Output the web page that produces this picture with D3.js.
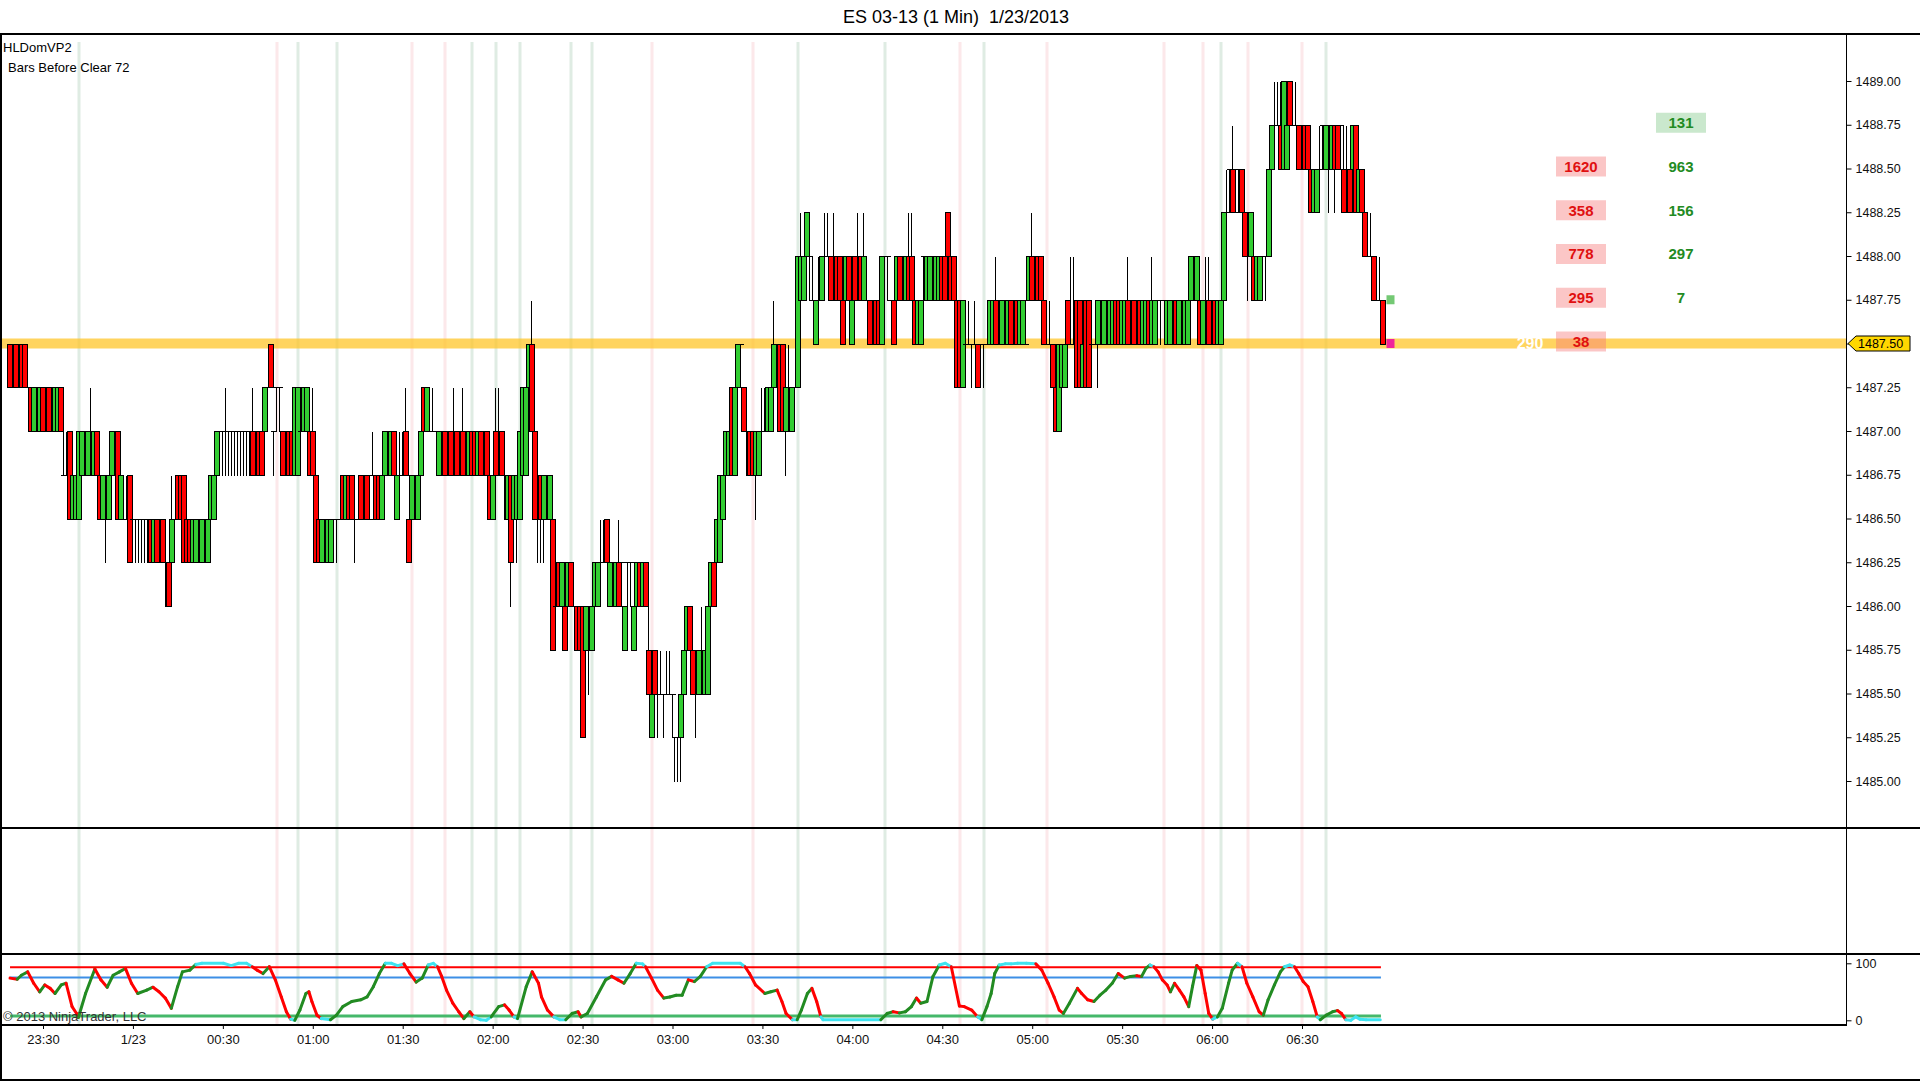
<!DOCTYPE html>
<html><head><meta charset="utf-8">
<script src="https://cdn.jsdelivr.net/npm/d3@7"></script>
<style>
html,body{margin:0;padding:0;background:#fff;}
svg{display:block;font-family:Arial,"Liberation Sans",sans-serif;}
</style></head><body>
<svg id="c" width="1920" height="1081"></svg>
<script>
// ---------------- DATA ----------------
const chartTitle = "ES 03-13 (1 Min)  1/23/2013";
const indicatorName = "HLDomVP2";
const indicatorParam = "Bars Before Clear 72";
const copyright = "\u00A9 2013 NinjaTrader, LLC";
const firstBarTime = "2013-01-22 23:19";
const basePrice = 1485.00, tickStep = 0.25;
const priceTicks = [1485.00,1485.25,1485.50,1485.75,1486.00,1486.25,1486.50,1486.75,1487.00,1487.25,1487.50,1487.75,1488.00,1488.25,1488.50,1488.75,1489.00];
const lastPrice = 1487.50;
// bars: levels in ticks above basePrice
const barOpen = [
10,10,10,10,10,10,9,9,8,8, 8,9,9,9,8,8,8,9,7,7, 8,6,6,6,7,7,7,7,7,8, 7,6,6,6,7,7,8,6,6,6,
7,6,6,6,6,6,6,6,5,6, 6,6,5,5,5,6,7,7,7,6, 6,5,5,5,5,5,5,6,6,7, 8,8,8,8,8,8,8,8,8,8,
8,8,8,8,8,8,9,10,8,9, 9,8,8,8,8,7,7,8,8,8, 8,8,7,6,5,5,5,5,6,6, 6,7,6,7,7,6,6,7,7,7,
6,7,7,7,6,7,7,7,8,6, 7,7,8,6,6,6,6,7,9,8, 8,8,8,7,8,8,8,8,8,8, 8,8,8,7,8,8,7,8,8,8,
7,6,8,8,8,7,6,7,6,6, 6,7,7,9,10,8,6,7,6,6, 6,6,4,5,4,4,4,5,4,4, 4,4,3,3,3,4,4,5,5,6,
4,4,4,5,5,3,5,5,3,4, 5,4,5,3,1,3,2,2,2,2, 2,2,1,1,1,2,3,4,3,3, 2,2,2,2,4,5,5,5,6,7,
7,9,7,9,10,9,8,8,8,7, 7,8,8,8,8,9,10,10,10,8, 8,8,9,9,11,11,12,12,11,10, 11,11,12,12,12,12,12,12,11,11,
12,10,12,12,12,11,11,11,11,11, 11,10,12,12,11,11,11,12,12,11, 12,12,11,10,10,12,11,11,12,11, 11,12,12,13,12,12,11,11,9,10,
10,10,10,10,10,10,10,10,10,11, 10,10,10,10,11,11,11,10,10,10, 11,12,12,12,12,11,10,10,10,9, 8,9,9,11,10,10,11,11,9,11,
11,10,10,10,10,10,10,10,10,11, 11,10,10,11,11,11,11,11,10,10, 11,10,10,11,11,11,10,10,11,11, 10,10,10,10,11,11,11,11,10,11,
11,11,11,10,10,11,13,14,14,13, 14,14,13,12,12,12,11,11,12,12, 12,14,15,15,15,14,14,16,15,15, 15,15,15,15,14,13,13,14,15,14,
14,14,15,15,15,14,14,14,14,15, 13,14,13,12,12,12,11,11,11];
const barClose = [
9,9,9,9,9,9,9,8,9,9, 9,8,8,8,8,9,9,8,7,7, 6,7,7,8,8,8,8,8,8,7, 6,7,7,7,8,7,6,7,6,6,
5,6,6,6,6,6,6,5,6,5, 5,5,5,4,6,6,6,6,5,5, 5,6,6,5,6,6,6,7,7,8, 8,8,8,8,8,8,8,8,8,8,
8,7,8,7,7,9,9,9,8,9, 9,7,7,7,7,9,9,8,9,9, 7,7,5,5,6,6,6,6,6,6, 6,6,7,6,6,6,6,6,6,6,
6,7,6,6,7,8,8,8,7,7, 7,7,7,5,7,7,7,8,8,9, 8,8,8,8,8,7,7,7,7,7, 7,7,8,8,7,7,8,7,7,7,
6,7,7,7,7,7,7,5,7,7, 8,9,9,10,8,6,6,6,7,7, 7,3,4,4,5,3,5,4,4,3, 3,1,4,4,4,5,5,5,5,5,
5,5,5,4,5,4,5,5,4,5, 4,5,4,2,2,2,2,2,2,2, 2,2,1,1,2,3,4,3,2,3, 3,3,3,4,5,4,6,7,7,8,
8,7,9,10,10,8,8,7,7,8, 8,8,8,9,9,10,10,8,8,9, 9,9,9,12,12,12,13,12,11,11, 11,12,12,12,11,12,11,11,10,12,
11,11,11,11,11,12,11,10,10,10, 10,12,12,12,11,10,12,11,12,12, 11,11,10,11,11,12,12,12,12,12, 12,11,11,12,11,11,9,9,11,10,
10,10,10,9,10,10,10,11,11,10, 10,11,11,11,10,10,10,11,11,10, 12,11,11,11,11,10,10,10,9,8, 10,10,10,10,10,10,9,9,10,9,
9,10,10,11,10,11,11,11,11,10, 10,11,11,10,10,10,10,10,11,11, 10,11,11,11,11,11,11,11,11,10, 11,11,11,11,12,12,12,10,11,11,
10,10,10,11,11,13,13,14,13,13, 14,13,12,12,13,11,12,12,12,12, 14,15,15,15,14,16,15,15,15,15, 14,15,14,14,13,14,14,14,15,15,
15,15,14,14,15,13,13,13,15,13, 14,13,12,12,12,11,11,11,10];
const barHigh = [
10,10,10,10,10,10,10,9,9,9, 9,9,9,9,8,9,9,9,8,8, 8,7,7,8,8,8,8,9,8,8, 7,7,7,7,8,7,8,7,7,7,
7,6,6,6,6,6,6,6,6,6, 6,6,5,5,7,6,7,7,7,6, 6,6,6,6,6,6,6,7,7,8, 8,8,9,8,8,8,8,8,8,8,
8,9,8,8,8,9,9,10,8,9, 9,8,8,8,8,9,9,8,9,9, 8,9,7,6,6,6,6,6,6,6, 6,7,7,7,7,6,6,7,7,7,
6,8,7,7,7,8,8,8,8,7, 8,8,9,6,7,7,7,8,9,9, 8,9,8,8,8,8,8,8,9,8, 8,9,8,8,8,8,8,8,8,8,
7,7,9,9,8,7,7,7,7,7, 8,9,9,10,11,8,6,7,7,7, 7,6,4,5,5,4,5,5,5,4, 4,4,4,4,4,5,5,6,6,6,
5,5,5,6,5,4,5,5,4,5, 5,5,5,4,2,3,2,3,2,3, 3,2,1,1,2,3,4,4,3,3, 3,4,3,4,5,5,6,7,7,8,
8,9,9,10,10,9,8,8,8,8, 8,9,9,9,9,11,10,10,10,9, 10,9,9,12,13,12,13,12,12,11, 12,12,13,13,12,13,12,12,11,12,
12,11,12,13,12,13,12,11,11,11, 11,12,12,12,11,11,12,12,12,12, 13,13,11,11,11,12,12,12,12,12, 12,12,12,13,12,12,11,11,11,11,
11,10,11,10,10,10,10,11,11,12, 11,11,11,11,11,11,11,11,11,11, 12,13,12,12,12,11,11,11,10,9, 10,10,10,11,12,12,11,11,10,11,
11,10,10,11,10,11,11,11,11,11, 11,11,11,12,11,11,11,11,11,11, 11,12,11,11,11,11,11,11,11,11, 11,11,11,11,12,12,12,11,11,12,
12,11,11,11,11,13,14,14,15,14, 14,14,13,12,13,12,12,12,12,12, 14,15,16,16,16,16,15,16,16,16, 15,15,15,15,14,14,14,15,15,15,
15,15,15,15,15,15,15,14,15,15, 14,14,13,13,13,12,12,12,11];
const barLow = [
9,9,9,9,9,9,9,8,8,8, 8,8,8,8,8,8,8,8,7,7, 6,6,6,6,7,7,7,7,7,7, 6,6,5,6,7,7,6,6,6,6,
5,5,5,5,5,5,5,5,5,5, 5,5,4,4,5,6,6,6,5,5, 5,5,5,5,5,5,5,6,6,7, 7,7,7,7,7,7,7,7,7,7,
7,7,7,7,7,8,9,9,7,8, 8,7,7,7,7,7,7,8,8,8, 7,7,5,5,5,5,5,5,5,5, 6,6,6,6,6,5,6,6,6,6,
6,7,6,6,6,7,7,7,7,6, 7,7,7,5,6,6,6,7,8,8, 8,8,8,7,8,7,7,7,7,7, 7,7,8,7,7,7,7,7,7,7,
6,6,7,7,7,6,6,4,5,5, 6,7,7,9,8,6,5,5,5,6, 6,3,3,4,4,3,4,4,4,3, 3,1,3,2,3,4,4,5,5,5,
4,4,4,4,4,3,4,4,3,4, 4,4,4,2,1,2,1,2,1,2, 2,1,0,0,0,2,3,3,2,1, 2,2,2,2,4,4,5,5,6,6,
7,7,7,9,9,8,7,7,7,6, 7,8,8,8,8,9,9,8,8,7, 8,8,9,9,11,11,12,11,11,10, 11,11,12,12,11,12,11,11,10,11,
11,10,11,11,11,11,11,10,10,10, 10,10,11,11,11,10,11,11,11,11, 11,11,10,10,10,11,11,11,11,11, 11,11,11,12,11,11,9,9,9,10,
10,9,10,9,9,9,10,10,10,10, 10,10,10,10,10,10,10,10,10,10, 11,11,11,11,11,10,10,10,9,8, 8,9,9,10,10,10,9,9,9,9,
9,10,10,9,10,10,10,10,10,10, 10,10,10,10,10,10,10,10,10,10, 10,10,10,10,10,11,10,10,10,10, 10,10,10,10,11,11,11,10,10,11,
10,10,10,10,10,11,13,13,13,13, 13,13,12,11,12,11,11,11,11,11, 12,14,15,15,14,14,14,15,15,15, 14,15,14,14,13,13,13,14,14,14,
13,14,13,14,14,13,13,13,14,13, 13,13,12,12,12,11,11,11,10];
// faint vertical markers
const greenMarkers = ["2013-01-22 23:42","2013-01-23 00:55","2013-01-23 01:08","2013-01-23 01:53","2013-01-23 02:01","2013-01-23 02:09","2013-01-23 02:26","2013-01-23 02:33","2013-01-23 03:42","2013-01-23 04:11","2013-01-23 04:44","2013-01-23 06:03","2013-01-23 06:38"];
const pinkMarkers = ["2013-01-23 00:48","2013-01-23 01:33","2013-01-23 01:44","2013-01-23 02:53","2013-01-23 03:27","2013-01-23 04:36","2013-01-23 05:05","2013-01-23 05:44","2013-01-23 05:57","2013-01-23 06:12","2013-01-23 06:30"];
// DOM volume columns
const domRedPrices = [1488.50,1488.25,1488.00,1487.75,1487.50];
const domRedSizes = [1620,358,778,295,38];
const domGreenPrices = [1488.75,1488.50,1488.25,1488.00,1487.75];
const domGreenSizes = [131,963,156,297,7];
const domGreenHighlight = [true,false,false,false,false];
const lastVolume = 290;
// stochastic (bar number, %K)
const stochBar = [0,2.4,3.8,5.9,7.9,9.9,11.6,13.4,15,17.1,18.7,20.7,22.2,22.8,25.2,28.3,30.3,32.4,34.4,36.5,38.5,40.5,42.6,45.6,47.7,49.7,51.8,53.8,55.9,57.5,60,62,64,71.2,73.8,76.3,78.9,80.8,82.4,84.4,86.5,88.5,90.5,92.2,93.6,95,96.7,98.7,99.7,100.7,102.4,103.8,106.9,108.9,111,114,117,119.1,121.2,123.2,125.2,127.3,129.3,131.4,133.4,135.5,137.5,139.5,141.2,142.6,144,145.6,147.7,149.7,151.4,153.4,154.8,156.9,158.9,160.5,163,165,166.5,168.1,169.3,172.2,174.2,176.3,177.3,179.3,181.4,183.4,185.4,187.5,189.5,190.5,192.6,195.6,198.7,200.7,202.8,204.8,206.9,208.9,211,212,214,216,218.1,220.1,222.2,224.2,226.3,228.3,230.3,232.4,234.4,243.6,245.2,246.7,248.7,251.8,253.8,255.9,257.5,258.9,261,262.6,264,266,267.5,269.1,270.5,271.2,290.5,292.6,294.6,296.7,298.7,300.7,302.4,303.8,305.9,307.9,310,312,314,316.7,318.3,320.8,322.8,324.2,325.9,327.3,328.5,330,332,334,336.1,339.1,342.2,344.2,346.3,348.3,350,351.4,353.4,356.1,357.5,359.5,361.6,363.6,365.6,367.7,369.7,371.8,373.8,375.9,377.5,378.9,380.3,381.6,383,384.4,386,387.1,388.5,390.1,391.6,393.2,394.5,395.9,397.3,398.7,399.9,401.2,402.8,404.4,406.5,407.7,409.5,411,412.6,414.6,416.7,418.1,419.7,421.8,423.8,425.2,426.9,428.5,429.9,431.4,433,434.6,436.1,437.1,439.1,441.2,442.8,444.2,445.6,447.3,448.9,450.3,452.4,457.1];
const stochK = [74,72,79,85,65,50,62,56,47,62,65,24,12,5,47,90,71,58,79,85,91,65,47,53,58,50,39,21,59,85,88,98,100,100,96,100,100,94,88,82,94,71,41,15,2,0,18,47,50,33,9,3,1,9,24,33,36,41,59,82,100,100,96,99,82,67,74,97,100,94,77,53,30,15,3,15,6,1,0,6,24,27,18,6,3,59,85,65,41,18,6,1,1,12,15,6,12,41,71,77,71,65,82,100,99,94,74,53,39,41,44,44,71,68,77,94,100,100,94,82,62,47,50,53,33,12,1,1,18,47,56,33,6,1,1,12,15,13,15,24,39,30,33,77,97,100,94,25,24,18,6,1,24,47,82,97,99,99,100,100,99,88,65,41,18,12,30,56,47,36,33,44,53,65,82,74,77,78,77,91,97,94,85,71,62,50,65,53,41,24,60,96,88,47,12,2,6,21,65,88,100,94,65,41,15,9,36,62,85,94,97,94,82,68,59,33,6,1,9,15,17,12,1,0,6,2,1,1];
const stochLevels = [93, 75, 7.5];
const stochTicks = [0, 100];

// ---------------- LAYOUT ----------------
const W = 1920, H = 1081;
const frameTop = 34, axisX = 1846, priceBottom = 828, midBottom = 954, stochBottom = 1025;
const parseT = d3.timeParse("%Y-%m-%d %H:%M");
const t0 = parseT(firstBarTime);
const barTime = i => new Date(t0.getTime() + i * 60000);
const nBars = barOpen.length;

const x = d3.scaleTime()
  .domain([parseT("2013-01-22 23:30"), parseT("2013-01-23 06:30")])
  .range([43, 1302]);
const y = d3.scaleLinear().domain([1485, 1489]).range([781, 81]);
const yS = d3.scaleLinear().domain([0, 100]).range([1020.3, 963.3]);
const lvl = L => basePrice + L * tickStep;
const py = L => Math.round(y(lvl(L))) + 0.5;
const bx = i => Math.round(x(barTime(i)));

const svg = d3.select("#c");
svg.append("rect").attr("width", W).attr("height", H).attr("fill", "#fff");

// vertical markers
const gm = svg.append("g");
greenMarkers.forEach(s => {
  const xx = Math.round(x(parseT(s)));
  gm.append("line").attr("x1", xx).attr("x2", xx).attr("y1", 42).attr("y2", stochBottom)
    .attr("stroke", "#dfece3").attr("stroke-width", 3);
});
pinkMarkers.forEach(s => {
  const xx = Math.round(x(parseT(s)));
  gm.append("line").attr("x1", xx).attr("x2", xx).attr("y1", 42).attr("y2", stochBottom)
    .attr("stroke", "#fce8ea").attr("stroke-width", 3);
});

// last price band
svg.append("rect").attr("x", 1).attr("width", axisX - 1)
  .attr("y", y(lastPrice) - 5).attr("height", 10)
  .attr("fill", "#FFC62A").attr("opacity", 0.75);

// bars: within a run of identical bodies, every other bar is outlined (overlapping boxes)
const gb = svg.append("g").attr("shape-rendering", "crispEdges");
function wick(i) {
  const o = barOpen[i], c = barClose[i], h = barHigh[i], l = barLow[i];
  if (h > Math.max(o, c) || l < Math.min(o, c)) {
    const cx = bx(i);
    gb.append("line").attr("x1", cx - 0.5).attr("x2", cx - 0.5)
      .attr("y1", py(h)).attr("y2", py(l)).attr("stroke", "#000").attr("stroke-width", 1);
  }
}
function body(i) {
  const o = barOpen[i], c = barClose[i], cx = bx(i);
  const top = py(Math.max(o, c)), bot = py(Math.min(o, c));
  gb.append("rect").attr("x", cx - 2.5).attr("width", 5)
    .attr("y", top).attr("height", bot - top)
    .attr("fill", c > o ? "#32CD32" : "#FF0000")
    .attr("stroke", "#000").attr("stroke-width", 1);
}
let i = 0;
while (i < nBars) {
  const o = barOpen[i], c = barClose[i];
  if (o === c) {
    wick(i);
    const cx = bx(i);
    gb.append("line").attr("x1", cx - 3).attr("x2", cx + 3)
      .attr("y1", py(o)).attr("y2", py(o)).attr("stroke", "#000").attr("stroke-width", 1);
    i++;
    continue;
  }
  let j = i;
  while (j + 1 < nBars && barOpen[j + 1] === o && barClose[j + 1] === c) j++;
  for (let k = i; k <= j; k++) wick(k);
  for (let k = i; k <= j; k += 2) body(k);
  if ((j - i) % 2 === 1) body(j);
  i = j + 1;
}
// small markers after last bar
const nextX = bx(nBars);
svg.append("rect").attr("x", nextX + 0.5).attr("width", 8)
  .attr("y", y(lastPrice + 0.25) - 4.5).attr("height", 9).attr("fill", "#5cbf5c").attr("opacity", 0.85);
svg.append("rect").attr("x", nextX + 0.5).attr("width", 8)
  .attr("y", y(lastPrice) - 4.5).attr("height", 9).attr("fill", "#f0249b");

// DOM columns
const redCx = 1581, greenCx = 1681, volCx = 1530;
const gd = svg.append("g");
domRedPrices.forEach((p, k) => {
  const cy = y(p) - 2;
  gd.append("rect").attr("x", redCx - 25).attr("width", 50).attr("y", cy - 10).attr("height", 20)
    .attr("fill", "rgba(245,120,120,0.42)");
  gd.append("text").attr("x", redCx).attr("y", cy).attr("dy", "0.36em").attr("text-anchor", "middle")
    .attr("font-size", 15).attr("font-weight", "bold").attr("fill", "#e01010").text(domRedSizes[k]);
});
domGreenPrices.forEach((p, k) => {
  const cy = y(p) - 2;
  if (domGreenHighlight[k]) {
    gd.append("rect").attr("x", greenCx - 25).attr("width", 50).attr("y", cy - 10).attr("height", 20)
      .attr("fill", "rgba(80,180,90,0.3)");
  }
  gd.append("text").attr("x", greenCx).attr("y", cy).attr("dy", "0.36em").attr("text-anchor", "middle")
    .attr("font-size", 15).attr("font-weight", "bold").attr("fill", "#228B22").text(domGreenSizes[k]);
});
gd.append("text").attr("x", volCx).attr("y", y(lastPrice)).attr("dy", "0.36em").attr("text-anchor", "middle")
  .attr("font-size", 16).attr("font-weight", "bold").attr("fill", "#fff").text(lastVolume);

// stochastic levels
const sx0 = x(barTime(0)), sx1 = x(barTime(nBars - 1)) - 2;
const levelColors = ["#FF0000", "#3d8fe6", "#45b86a"];
const levelWidths = [2, 2, 3];
stochLevels.forEach((v, k) => {
  svg.append("line").attr("x1", sx0).attr("x2", sx1).attr("y1", yS(v)).attr("y2", yS(v))
    .attr("stroke", levelColors[k]).attr("stroke-width", levelWidths[k]);
});
// stochastic line
const gs = svg.append("g").attr("fill", "none").attr("stroke-width", 3).attr("stroke-linecap", "round");
const pts = stochBar.map((b, k) => [x(new Date(t0.getTime() + b * 60000)), yS(stochK[k]), stochK[k]]);
for (let k = 0; k < pts.length - 1; k++) {
  const a = pts[k], b = pts[k + 1];
  let col;
  if ((a[2] >= 92 && b[2] >= 92) || (a[2] <= 8 && b[2] <= 8)) col = "#3ee3f0";
  else col = b[2] >= a[2] ? "#228B22" : "#FF0000";
  gs.append("line").attr("x1", a[0]).attr("y1", a[1]).attr("x2", b[0]).attr("y2", b[1]).attr("stroke", col);
}

// frame
const gf = svg.append("g").attr("stroke", "#000").attr("shape-rendering", "crispEdges");
gf.append("line").attr("x1", 0).attr("x2", W).attr("y1", frameTop).attr("y2", frameTop).attr("stroke-width", 2);
gf.append("line").attr("x1", 1).attr("x2", 1).attr("y1", frameTop).attr("y2", H - 1).attr("stroke-width", 2);
gf.append("line").attr("x1", axisX + 0.5).attr("x2", axisX + 0.5).attr("y1", frameTop).attr("y2", stochBottom).attr("stroke-width", 1);
gf.append("line").attr("x1", 0).attr("x2", W).attr("y1", priceBottom).attr("y2", priceBottom).attr("stroke-width", 2);
gf.append("line").attr("x1", 0).attr("x2", W).attr("y1", midBottom).attr("y2", midBottom).attr("stroke-width", 2);
gf.append("line").attr("x1", 0).attr("x2", axisX + 1).attr("y1", stochBottom).attr("y2", stochBottom).attr("stroke-width", 2);
gf.append("line").attr("x1", 0).attr("x2", W).attr("y1", H - 1.5).attr("y2", H - 1.5).attr("stroke-width", 2);

// price axis
const pa = svg.append("g").attr("transform", `translate(${axisX + 0.5},0)`)
  .call(d3.axisRight(y).tickValues(priceTicks).tickFormat(d3.format(".2f")).tickSize(5).tickPadding(4));
pa.select(".domain").remove();
pa.selectAll("text").attr("font-size", 12.5).attr("font-family", "Arial, 'Liberation Sans', sans-serif").attr("fill", "#111");
// stoch axis
const sa = svg.append("g").attr("transform", `translate(${axisX + 0.5},0)`)
  .call(d3.axisRight(yS).tickValues(stochTicks).tickSize(5).tickPadding(4));
sa.select(".domain").remove();
sa.selectAll("text").attr("font-size", 12.5).attr("font-family", "Arial, 'Liberation Sans', sans-serif").attr("fill", "#111");
// time axis
const tTicks = d3.timeMinute.every(30).range(parseT("2013-01-22 23:30"), parseT("2013-01-23 06:31"));
const tf = d3.timeFormat("%H:%M");
const ta = svg.append("g").attr("transform", `translate(0,${stochBottom})`)
  .call(d3.axisBottom(x).tickValues(tTicks).tickSize(4).tickPadding(6)
    .tickFormat(d => (d.getHours() === 0 && d.getMinutes() === 0) ? "1/23" : tf(d)));
ta.select(".domain").remove();
ta.selectAll("text").attr("font-size", 13).attr("font-family", "Arial, 'Liberation Sans', sans-serif").attr("fill", "#111");

// current price tag
const ty = y(lastPrice);
svg.append("path")
  .attr("d", `M${axisX + 2},${ty} L${axisX + 10},${ty - 7.5} L${axisX + 64},${ty - 7.5} L${axisX + 64},${ty + 7.5} L${axisX + 10},${ty + 7.5} Z`)
  .attr("fill", "#FFD700").attr("stroke", "#000").attr("stroke-width", 1);
svg.append("text").attr("x", axisX + 12).attr("y", ty).attr("dy", "0.36em")
  .attr("font-size", 12.5).attr("fill", "#000").text(d3.format(".2f")(lastPrice));

// texts
svg.append("text").attr("x", 956).attr("y", 23).attr("text-anchor", "middle")
  .attr("font-size", 18).attr("fill", "#000").style("white-space", "pre").text(chartTitle);
svg.append("text").attr("x", 3).attr("y", 52).attr("font-size", 13).attr("fill", "#000").text(indicatorName);
svg.append("text").attr("x", 8).attr("y", 72).attr("font-size", 13).attr("fill", "#000").text(indicatorParam);
svg.append("text").attr("x", 3).attr("y", 1021).attr("font-size", 13).attr("fill", "#333").text(copyright);
</script>
</body></html>
